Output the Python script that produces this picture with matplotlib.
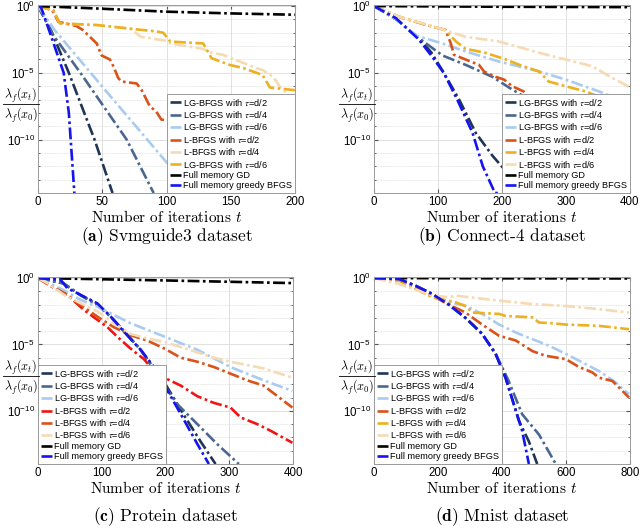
import numpy as np
import matplotlib
matplotlib.use("Agg")
import matplotlib.pyplot as plt
from matplotlib.ticker import FixedLocator, NullFormatter
from matplotlib.font_manager import FontProperties
from matplotlib.lines import Line2D

# ---------------- data (t, log10 of ratio) ----------------
# Panel (a) Svmguide3
a_lg2_t = [0, 10, 24, 44, 58]
a_lg2_e = [0, -1.8, -5, -10, -14]
a_lg4_t = [0, 12, 33, 69, 90]
a_lg4_e = [0, -2.2, -5, -10, -14]
a_lg6_t = [0, 13, 55, 100, 118]
a_lg6_e = [0, -1.8, -6.6, -11.7, -13.8]
a_l2_t = [0, 11, 15.8, 30, 35, 45.7, 49.5, 56, 58.6, 62.5, 65, 76.8, 80.7, 87, 92, 96, 103, 120, 140, 155]
a_l2_e = [0, -0.3, -1.17, -1.5, -1.8, -2.8, -3.7, -4.0, -4.5, -5.4, -5.65, -5.8, -6.3, -7.5, -7.9, -8.5, -8.6, -10, -12.5, -14]
a_l4_t = [0, 12, 17, 45.7, 72, 80, 100, 103, 128, 135, 144, 170, 175, 183, 188, 200]
a_l4_e = [0, -0.3, -1.3, -1.42, -1.7, -2.3, -2.6, -2.8, -3.2, -3.5, -3.65, -4.65, -4.8, -5.3, -6.0, -7.1]
a_l6_t = [0, 12, 17, 45.7, 82, 92, 97.5, 103, 128.6, 135, 149, 160, 173, 175, 180.5, 200]
a_l6_e = [0, -0.3, -1.3, -1.42, -1.8, -1.9, -2.0, -2.66, -2.8, -3.9, -4.4, -4.65, -5.1, -5.2, -6.1, -6.3]
a_gd_t = [0, 50, 100, 150, 200]
a_gd_e = [0, -0.2, -0.42, -0.55, -0.65]
a_gb_t = [0, 2, 5, 10, 15, 20, 24, 28.3]
a_gb_e = [0, 0, -0.8, -2.2, -3.6, -5, -8, -14]

# Panel (b) Connect-4
b_lg2_t = [0, 35, 70, 90, 109, 133, 159, 185, 203, 240]
b_lg2_e = [0, -1.0, -2.4, -3.5, -5, -7, -9.5, -11.2, -12.2, -14]
b_lg4_t = [0, 35, 70, 107, 143, 185, 211, 242, 300, 330]
b_lg4_e = [0, -1.0, -2.4, -3.7, -4.4, -5.3, -6.1, -7, -8.5, -9.5]
b_lg6_t = [0, 35, 65, 107, 143, 195, 258, 299, 352, 383, 400]
b_lg6_e = [0, -1.0, -2.2, -2.8, -3.4, -4.15, -4.9, -5.5, -6.4, -7, -7.3]
b_l2_t = [0, 39, 81, 112, 120, 125, 143, 164, 172, 190, 203, 216, 234, 244, 280]
b_l2_e = [0, -0.8, -1.4, -1.8, -2.8, -3.65, -4.0, -4.4, -4.9, -5.3, -5.5, -6.0, -6.4, -7.0, -8.5]
b_l4_t = [0, 39, 81, 112, 128, 143, 174, 206, 227, 258, 273, 299, 331, 352, 400]
b_l4_e = [0, -0.8, -1.4, -1.8, -2.65, -3.2, -3.5, -4.0, -4.4, -4.9, -5.65, -6.0, -6.4, -6.8, -8.0]
b_l6_t = [0, 39, 91, 143, 195, 221, 258, 299, 341, 362, 400]
b_l6_e = [0, -0.8, -1.5, -2.3, -2.65, -3.0, -3.5, -4.0, -4.5, -5.1, -6.1]
b_gd_t = [0, 200, 400]
b_gd_e = [0, -0.05, -0.08]
b_gb_t = [0, 34, 70, 91, 109, 130, 154, 170, 189, 198]
b_gb_e = [0, -0.9, -2.5, -3.8, -5, -7, -9.5, -12, -14, -14]

# Panel (c) Protein
c_lg2_t = [0, 40, 67, 93, 114, 135, 161, 185, 200, 230, 255, 278.5]
c_lg2_e = [0, -0.4, -1.3, -2.0, -2.9, -4.0, -5.4, -7.0, -8.0, -10.4, -12.3, -14]
c_lg4_t = [0, 40, 67, 93, 114, 135, 161, 190, 218.5, 250, 281, 315]
c_lg4_e = [0, -0.4, -1.3, -2.0, -2.9, -4.0, -5.4, -7.5, -9.5, -11, -12.5, -14]
c_lg6_t = [0, 40, 67, 93, 145, 198, 250, 302, 354, 399]
c_lg6_e = [0, -0.9, -1.65, -2.15, -3.4, -4.4, -5.4, -6.7, -7.7, -8.5]
c_l2_t = [0, 20, 46, 72, 109, 124, 145, 166, 182, 198, 224, 250, 276, 302, 318, 344, 365, 399]
c_l2_e = [0, -0.6, -1.27, -2.4, -3.7, -4.4, -5.3, -6.1, -7.0, -7.5, -8.1, -8.9, -9.4, -9.75, -10.5, -11, -11.5, -12.4]
c_l4_t = [0, 20, 46, 56, 93, 119, 145, 171, 198, 224, 250, 276, 302, 328, 354, 399]
c_l4_e = [0, -0.6, -1.27, -1.65, -2.9, -3.7, -4.3, -4.7, -5.3, -6.0, -6.3, -6.7, -7.2, -7.7, -8.1, -9.75]
c_l6_t = [0, 14.6, 41, 67, 93, 119, 145, 171, 198, 250, 276, 302, 354, 399]
c_l6_e = [0, -0.38, -1.27, -1.9, -2.5, -3.4, -4.2, -4.55, -4.8, -5.6, -6.0, -6.3, -6.8, -7.5]
c_gd_t = [0, 200, 400]
c_gd_e = [0, -0.18, -0.38]
c_gb_t = [0, 35.5, 46, 67, 93, 114, 135, 161, 182, 197.6, 224, 250, 268]
c_gb_e = [0, -0.13, -0.76, -1.27, -1.9, -2.9, -4.05, -5.4, -6.7, -8, -10.25, -12.5, -14]

# Panel (d) Mnist
d_lg2_t = [0, 78, 130, 182, 234, 286, 338, 380, 411, 453, 484, 510]
d_lg2_e = [0, -0.08, -0.58, -1.2, -2.0, -3.0, -4.2, -5.7, -7.5, -10.75, -12.3, -14]
d_lg4_t = [0, 78, 130, 182, 234, 286, 338, 380, 420, 463, 516, 568]
d_lg4_e = [0, -0.08, -0.58, -1.2, -2.0, -3.0, -4.2, -5.7, -7.7, -10.25, -11.8, -14]
d_lg6_t = [0, 78, 182, 234, 286, 338, 391, 443, 495, 547, 599, 651, 703, 755, 797]
d_lg6_e = [0, -0.15, -1.33, -1.8, -2.1, -2.7, -3.5, -4.1, -4.6, -5.1, -5.7, -6.35, -7.0, -7.85, -8.75]
d_l2_t = [0, 78, 182, 234, 286, 338, 391, 443, 495, 536, 599, 641, 682, 703, 745, 766, 797]
d_l2_e = [0, -0.15, -1.33, -2.0, -2.6, -3.5, -4.35, -4.7, -5.5, -5.85, -6.1, -6.7, -7.1, -7.5, -7.75, -8.25, -9.0]
d_l4_t = [0, 78, 182, 255, 286, 307, 391, 411, 495, 516, 557, 599, 703, 797]
d_l4_e = [0, -0.2, -1.45, -1.83, -2.1, -2.6, -2.7, -2.85, -2.96, -3.35, -3.4, -3.5, -3.6, -3.85]
d_l6_t = [0, 78, 182, 234, 255, 391, 495, 599, 703, 797]
d_l6_e = [0, -0.45, -1.3, -1.45, -1.33, -1.7, -1.96, -2.1, -2.34, -2.6]
d_gd_t = [0, 400, 800]
d_gd_e = [0, -0.02, -0.03]
d_gb_t = [0, 78, 130, 182, 234, 286, 338, 380, 411, 437, 463, 484]
d_gb_e = [0, -0.08, -0.58, -1.2, -2.0, -3.0, -4.2, -5.7, -7.5, -9.5, -11.5, -14]

lab_lg = [r'LG-BFGS with $\tau$=d/2', r'LG-BFGS with $\tau$=d/4', r'LG-BFGS with $\tau$=d/6']
lab_l = [r'L-BFGS with $\tau$=d/2', r'L-BFGS with $\tau$=d/4', r'L-BFGS with $\tau$=d/6']
lab_a6 = r'LG-BFGS with $\tau$=d/6'
lab_gd = 'Full memory GD'
lab_gb = 'Full memory greedy BFGS'

captions = [('(a)', 'Svmguide3 dataset'), ('(b)', 'Connect-4 dataset'),
            ('(c)', 'Protein dataset'), ('(d)', 'Mnist dataset')]
xmaxs = [200, 400, 400, 800]
xticks_list = [[0, 50, 100, 150, 200], [0, 100, 200, 300, 400],
               [0, 100, 200, 300, 400], [0, 200, 400, 600, 800]]

# ---------------- styling ----------------
NAVY = '#1f3556'
SLATE = '#4a6791'
LBLUE = '#a9cbef'
ORED = '#d95319'
GOLD = '#edb120'
TAN = '#f6dab3'
RED = '#f21414'
BLACK = '#000000'
BLUE = '#1414f0'

plt.rcParams['font.family'] = ['Liberation Sans', 'DejaVu Sans']
plt.rcParams['mathtext.fontset'] = 'custom'
plt.rcParams['mathtext.rm'] = 'Liberation Sans'
plt.rcParams['mathtext.it'] = 'Liberation Sans:italic'
plt.rcParams['mathtext.bf'] = 'Liberation Sans:bold'

fig = plt.figure(figsize=(6.4, 5.28), dpi=100)
W, H = 640.0, 528.0

def ax_rect(l, t, r, b):
    return [l / W, 1 - b / H, (r - l) / W, (b - t) / H]

rects = [ax_rect(38, 5, 295, 193), ax_rect(374, 5, 630, 193),
         ax_rect(38, 277, 293, 464), ax_rect(374, 277, 630, 464)]

panels = [
    [(a_lg2_t, a_lg2_e, NAVY, lab_lg[0]), (a_lg4_t, a_lg4_e, SLATE, lab_lg[1]),
     (a_lg6_t, a_lg6_e, LBLUE, lab_lg[2]), (a_l2_t, a_l2_e, ORED, lab_l[0]),
     (a_l4_t, a_l4_e, TAN, lab_l[1]), (a_l6_t, a_l6_e, GOLD, lab_a6),
     (a_gd_t, a_gd_e, BLACK, lab_gd), (a_gb_t, a_gb_e, BLUE, lab_gb)],
    [(b_lg2_t, b_lg2_e, NAVY, lab_lg[0]), (b_lg4_t, b_lg4_e, SLATE, lab_lg[1]),
     (b_lg6_t, b_lg6_e, LBLUE, lab_lg[2]), (b_l2_t, b_l2_e, ORED, lab_l[0]),
     (b_l4_t, b_l4_e, GOLD, lab_l[1]), (b_l6_t, b_l6_e, TAN, lab_l[2]),
     (b_gd_t, b_gd_e, BLACK, lab_gd), (b_gb_t, b_gb_e, BLUE, lab_gb)],
    [(c_lg2_t, c_lg2_e, NAVY, lab_lg[0]), (c_lg4_t, c_lg4_e, SLATE, lab_lg[1]),
     (c_lg6_t, c_lg6_e, LBLUE, lab_lg[2]), (c_l2_t, c_l2_e, RED, lab_l[0]),
     (c_l4_t, c_l4_e, ORED, lab_l[1]), (c_l6_t, c_l6_e, TAN, lab_l[2]),
     (c_gd_t, c_gd_e, BLACK, lab_gd), (c_gb_t, c_gb_e, BLUE, lab_gb)],
    [(d_lg2_t, d_lg2_e, NAVY, lab_lg[0]), (d_lg4_t, d_lg4_e, SLATE, lab_lg[1]),
     (d_lg6_t, d_lg6_e, LBLUE, lab_lg[2]), (d_l2_t, d_l2_e, ORED, lab_l[0]),
     (d_l4_t, d_l4_e, GOLD, lab_l[1]), (d_l6_t, d_l6_e, TAN, lab_l[2]),
     (d_gd_t, d_gd_e, BLACK, lab_gd), (d_gb_t, d_gb_e, BLUE, lab_gb)],
]
legend_locs = ['lower right', 'lower right', 'lower left', 'lower left']
caption_y = [237, 237, 517, 517]
ylabel_x = [21, 357, 21, 357]
ylabel_y = [104, 104, 376, 376]

leg_prop = FontProperties(family='Liberation Sans', size=6.6, math_fontfamily='stix')

for i, ax_r in enumerate(rects):
    ax = fig.add_axes(ax_r)
    for (t, e, col, lab) in panels[i]:
        ax.plot(t, 10.0 ** np.array(e), color=col, lw=1.9,
                dashes=(4.5, 1.3, 1.0, 1.3), label=lab, solid_capstyle='butt')
    ax.set_yscale('log')
    ax.set_ylim(1e-14, 10 ** 0.08)
    ax.set_xlim(0, xmaxs[i])
    ax.set_xticks(xticks_list[i])
    ax.yaxis.set_major_locator(FixedLocator([1e-10, 1e-5, 1e0]))
    ax.yaxis.set_minor_locator(FixedLocator([10.0 ** k for k in range(-14, 1)]))
    ax.yaxis.set_minor_formatter(NullFormatter())
    ax.grid(True, which='major', color='#dcdcdc', lw=0.6, ls='-')
    ax.grid(True, which='minor', axis='y', color='#dcdcdc', lw=0.6, ls=(0, (1, 1)))
    ax.tick_params(which='both', direction='in', top=True, right=True,
                   labelsize=8.3, color='#555555', pad=2)
    ax.tick_params(which='major', length=3)
    ax.tick_params(which='minor', length=1.5)
    for s in ax.spines.values():
        s.set_color('#9a9a9a')
        s.set_linewidth(0.7)
    ax.set_xlabel('Number of iterations $t$', fontsize=11, family='cmr10',
                  math_fontfamily='cm', labelpad=1)
    leg = ax.legend(loc=legend_locs[i], prop=leg_prop, labelspacing=0.15,
                    handlelength=1.2, handletextpad=0.3, borderpad=0.3,
                    borderaxespad=0.0, fancybox=False, framealpha=1.0,
                    edgecolor='#9a9a9a')
    leg.get_frame().set_linewidth(0.7)
    # y label: fraction built from numerator, bar and denominator
    yx, yy = ylabel_x[i], ylabel_y[i]
    fig.text(yx / W, 1 - (yy - 0.3) / H, r'$\lambda_f(x_t)$', fontsize=8.8,
             math_fontfamily='cm', ha='center', va='bottom')
    fig.text(yx / W, 1 - (yy + 1.0) / H, r'$\lambda_f(x_0)$', fontsize=8.8,
             math_fontfamily='cm', ha='center', va='top')
    fig.add_artist(Line2D([(yx - 18) / W, (yx + 18) / W],
                          [1 - yy / H, 1 - yy / H], color='black', lw=0.6))
    cx = (ax_r[0] + ax_r[2] / 2)
    tag, name = captions[i]
    fig.text(cx, 1 - caption_y[i] / H, r'$\mathbf{' + tag + '}$ ' + name,
             fontsize=12.5, family='cmr10', math_fontfamily='cm',
             ha='center', va='center')

fig.savefig('out.png', dpi=100)
